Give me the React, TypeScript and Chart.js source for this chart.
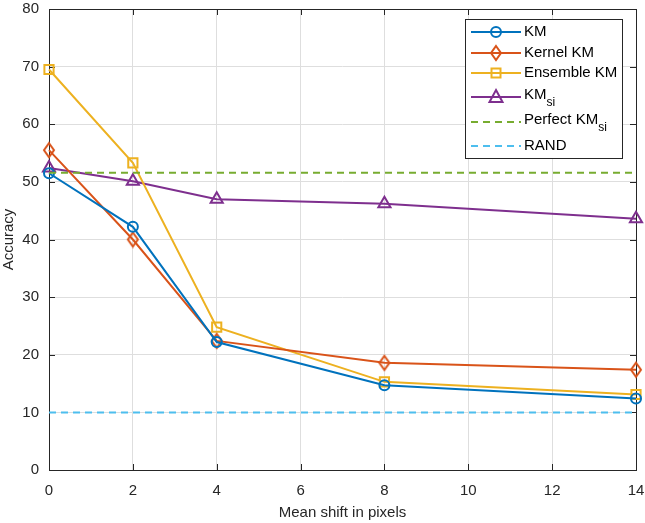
import React, { useEffect, useRef } from "react";
import { Chart, registerables } from "chart.js";
Chart.register(...registerables);

const shifts = [0, 2, 4, 8, 14];
const km = [51.5, 42.2, 22.2, 14.7, 12.4];
const kernelKm = [55.5, 40.0, 22.4, 18.6, 17.4];
const ensembleKm = [69.5, 53.3, 24.8, 15.3, 13.1];
const kmSi = [52.4, 50.1, 47.0, 46.2, 43.6];
const perfectKmSi = 51.6;
const rand = 10;
const xTicks = [0, 2, 4, 6, 8, 10, 12, 14];
const yTicks = [0, 10, 20, 30, 40, 50, 60, 70, 80];

const COLORS = ["#0072BD", "#D95319", "#EDB120", "#7E2F8E", "#77AC30", "#4DBEEE"];
const FONT = "'Liberation Sans', Arial, Helvetica, sans-serif";
const AXIS = "#262626";

type LegendItem = { label: string; sub?: string; color: string; marker?: string; dashed?: boolean };
const legendItems: LegendItem[] = [
  { label: "KM", color: COLORS[0], marker: "circle" },
  { label: "Kernel KM", color: COLORS[1], marker: "diamond" },
  { label: "Ensemble KM", color: COLORS[2], marker: "square" },
  { label: "KM", sub: "si", color: COLORS[3], marker: "triangle" },
  { label: "Perfect KM", sub: "si", color: COLORS[4], dashed: true },
  { label: "RAND", color: COLORS[5], dashed: true },
];

function diamondPath(ctx: CanvasRenderingContext2D, x: number, y: number) {
  ctx.moveTo(x, y - 7); ctx.lineTo(x + 5, y); ctx.lineTo(x, y + 7); ctx.lineTo(x - 5, y); ctx.closePath();
}

function makeDiamond(color: string) {
  const c = document.createElement("canvas");
  c.width = 14; c.height = 18;
  const ctx = c.getContext("2d")!;
  ctx.strokeStyle = color;
  ctx.lineWidth = 2;
  ctx.beginPath();
  diamondPath(ctx, 7, 9);
  ctx.stroke();
  return c;
}

function drawMarker(ctx: CanvasRenderingContext2D, kind: string, x: number, y: number, color: string) {
  ctx.save();
  ctx.strokeStyle = color;
  ctx.lineWidth = 2;
  ctx.setLineDash([]);
  ctx.beginPath();
  if (kind === "circle") ctx.arc(x, y, 5, 0, Math.PI * 2);
  else if (kind === "diamond") diamondPath(ctx, x, y);
  else if (kind === "square") ctx.rect(x - 4.5, y - 4.5, 9, 9);
  else if (kind === "triangle") {
    ctx.moveTo(x, y - 7); ctx.lineTo(x + 6.5, y + 5); ctx.lineTo(x - 6.5, y + 5); ctx.closePath();
  }
  ctx.stroke();
  ctx.restore();
}

const framePlugin = {
  id: "frame",
  beforeDatasetsDraw(chart: any) {
    const { ctx, chartArea: a } = chart;
    ctx.save();
    ctx.strokeStyle = AXIS;
    ctx.lineWidth = 1;
    const xs = chart.scales.x, ys = chart.scales.y;
    ctx.beginPath();
    for (const t of xTicks) {
      const px = Math.round(xs.getPixelForValue(t)) + 0.5;
      ctx.moveTo(px, a.bottom); ctx.lineTo(px, a.bottom - 6);
      ctx.moveTo(px, a.top); ctx.lineTo(px, a.top + 6);
    }
    for (const t of yTicks) {
      const py = Math.round(ys.getPixelForValue(t)) + 0.5;
      ctx.moveTo(a.left, py); ctx.lineTo(a.left + 6, py);
      ctx.moveTo(a.right, py); ctx.lineTo(a.right - 6, py);
    }
    ctx.stroke();
    ctx.strokeRect(Math.round(a.left) + 0.5, Math.round(a.top) + 0.5, Math.round(a.right - a.left), Math.round(a.bottom - a.top));
    ctx.restore();
  },
  afterDraw(chart: any) {
    const { ctx } = chart;
    const bx = 465, by = 19, bw = 157, bh = 139;
    ctx.save();
    ctx.fillStyle = "#ffffff";
    ctx.fillRect(bx, by, bw, bh);
    ctx.strokeStyle = AXIS;
    ctx.lineWidth = 1;
    ctx.strokeRect(bx + 0.5, by + 0.5, bw, bh);
    const rows = [32, 53, 73, 97, 122, 146];
    legendItems.forEach((it, i) => {
      const y = rows[i];
      ctx.strokeStyle = it.color;
      ctx.lineWidth = 2;
      ctx.setLineDash(it.dashed ? [7, 5] : []);
      ctx.beginPath();
      ctx.moveTo(471, y); ctx.lineTo(521, y);
      ctx.stroke();
      ctx.setLineDash([]);
      if (it.marker) drawMarker(ctx, it.marker, 496, y, it.color);
      ctx.fillStyle = "#000000";
      ctx.textBaseline = "middle";
      ctx.textAlign = "left";
      ctx.font = `15px ${FONT}`;
      const ty = it.sub ? y - 2 : y;
      ctx.fillText(it.label, 524, ty);
      if (it.sub) {
        const w = ctx.measureText(it.label).width;
        ctx.font = `12px ${FONT}`;
        ctx.fillText(it.sub, 524 + w, ty + 8);
      }
    });
    ctx.restore();
  },
};

function line(label: string, data: number[], color: string, style: any, radius: number) {
  return {
    label,
    data: shifts.map((x, i) => ({ x, y: data[i] })),
    borderColor: color,
    backgroundColor: "rgba(0,0,0,0)",
    borderWidth: 2,
    pointStyle: style,
    pointRadius: radius,
    pointBorderWidth: 2,
    pointBorderColor: color,
    pointBackgroundColor: "rgba(0,0,0,0)",
    tension: 0,
    clip: false,
  };
}

function hline(label: string, value: number, color: string) {
  return {
    label,
    data: [{ x: 0, y: value }, { x: 14, y: value }],
    borderColor: color,
    borderWidth: 2,
    borderDash: [7, 5],
    pointRadius: 0,
    fill: false,
  };
}

export default function App() {
  const ref = useRef<HTMLCanvasElement | null>(null);
  useEffect(() => {
    if (!ref.current) return;
    const chart = new Chart(ref.current, {
      type: "line",
      data: {
        datasets: [
          hline("Perfect KMsi", perfectKmSi, COLORS[4]),
          hline("RAND", rand, COLORS[5]),
          line("KM", km, COLORS[0], "circle", 5),
          line("Kernel KM", kernelKm, COLORS[1], makeDiamond(COLORS[1]), 7),
          line("Ensemble KM", ensembleKm, COLORS[2], "rect", 6.5),
          line("KMsi", kmSi, COLORS[3], "triangle", 7),
        ] as any,
      },
      options: {
        responsive: false,
        animation: false,
        layout: { padding: { top: 2, right: 9, left: 0, bottom: 0 } },
        plugins: { legend: { display: false }, tooltip: { enabled: false } },
        scales: {
          x: {
            type: "linear",
            min: 0,
            max: 14,
            afterBuildTicks: (s: any) => { s.ticks = xTicks.map((v) => ({ value: v })); },
            afterFit: (s: any) => { s.height = 53; s.paddingLeft = 0; s.paddingRight = 0; },
            grid: { color: "#dedede", drawTicks: false },
            border: { display: false },
            ticks: { color: AXIS, padding: 12, font: { family: FONT, size: 15 }, maxRotation: 0 },
            title: { display: true, text: "Mean shift in pixels", color: AXIS, font: { family: FONT, size: 15 }, padding: { top: 0, bottom: 1 } },
          },
          y: {
            type: "linear",
            min: 0,
            max: 80,
            afterBuildTicks: (s: any) => { s.ticks = yTicks.map((v) => ({ value: v })); },
            afterFit: (s: any) => { s.width = 49; s.paddingTop = 0; s.paddingBottom = 0; },
            grid: { color: "#dedede", drawTicks: false },
            border: { display: false },
            ticks: { color: AXIS, padding: 10, font: { family: FONT, size: 15 } },
            title: { display: true, text: "Accuracy", color: AXIS, font: { family: FONT, size: 15 }, padding: { top: 0, bottom: 0 } },
          },
        },
      },
      plugins: [framePlugin],
    });
    return () => chart.destroy();
  }, []);
  return (
    <div style={{ position: "fixed", left: 0, top: 0, width: 645, height: 523, background: "#fff" }}>
      <canvas ref={ref} width={645} height={523} style={{ width: 645, height: 523 }} />
    </div>
  );
}
